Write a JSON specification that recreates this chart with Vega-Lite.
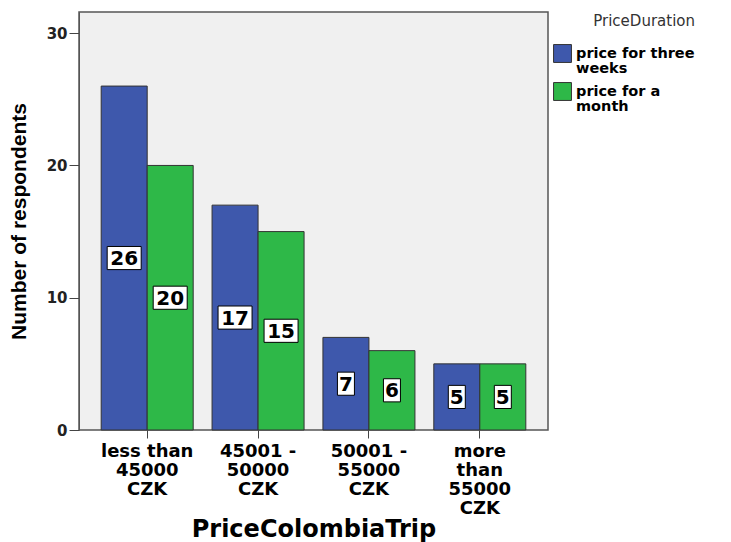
{
  "$schema": "https://vega.github.io/schema/vega-lite/v6.json",
  "width": 469,
  "height": 418,
  "autosize": "none",
  "padding": {"left": 79, "top": 12, "right": 183, "bottom": 112},
  "background": "white",
  "view": {"fill": "#F0F0F0", "stroke": "#555555", "strokeWidth": 1.5},
  "data": {
    "values": [
      {"trip": "less than 45000 CZK", "duration": "price for three weeks", "count": 26},
      {"trip": "less than 45000 CZK", "duration": "price for a month", "count": 20},
      {"trip": "45001 - 50000 CZK", "duration": "price for three weeks", "count": 17},
      {"trip": "45001 - 50000 CZK", "duration": "price for a month", "count": 15},
      {"trip": "50001 - 55000 CZK", "duration": "price for three weeks", "count": 7},
      {"trip": "50001 - 55000 CZK", "duration": "price for a month", "count": 6},
      {"trip": "more than 55000 CZK", "duration": "price for three weeks", "count": 5},
      {"trip": "more than 55000 CZK", "duration": "price for a month", "count": 5}
    ]
  },
  "encoding": {
    "x": {
      "field": "trip",
      "type": "nominal",
      "sort": null,
      "scale": {"paddingInner": 0.17, "paddingOuter": 0.2},
      "axis": {
        "title": "PriceColombiaTrip",
        "titleFont": "DejaVu Sans",
        "titleFontWeight": "bold",
        "titleFontSize": 24,
        "titleColor": "black",
        "titlePadding": 0,
        "labelAngle": 0,
        "labelFont": "DejaVu Sans",
        "labelFontWeight": "bold",
        "labelFontSize": 18,
        "labelColor": "black",
        "labelLineHeight": 19,
        "labelPadding": 4,
        "labelLimit": 200,
        "tickSize": 8,
        "tickColor": "#444444",
        "domain": false,
        "labelExpr": "datum.label == 'less than 45000 CZK' ? ['less than','45000','CZK'] : datum.label == '45001 - 50000 CZK' ? ['45001 -','50000','CZK'] : datum.label == '50001 - 55000 CZK' ? ['50001 -','55000','CZK'] : ['more','than','55000','CZK']"
      }
    },
    "xOffset": {"field": "duration", "type": "nominal", "sort": ["price for three weeks", "price for a month"]}
  },
  "resolve": {"scale": {"y": "independent"}},
  "layer": [
    {
      "mark": {"type": "bar", "stroke": "#333333", "strokeWidth": 1},
      "encoding": {
        "y": {
          "field": "count",
          "type": "quantitative",
          "scale": {"domain": [0, 31.6], "nice": false},
          "axis": {
            "title": "Number of respondents",
            "titleFont": "Liberation Sans",
            "titleFontWeight": "bold",
            "titleFontSize": 21,
            "titleColor": "black",
            "titlePadding": 17,
            "values": [0, 10, 20, 30],
            "grid": false,
            "labelFont": "DejaVu Sans",
            "labelFontWeight": "bold",
            "labelFontSize": 15,
            "labelColor": "#222222",
            "tickSize": 10,
            "tickColor": "#444444",
            "domainColor": "#555555"
          }
        },
        "color": {
          "field": "duration",
          "type": "nominal",
          "sort": ["price for three weeks", "price for a month"],
          "scale": {"domain": ["price for three weeks", "price for a month"], "range": ["#3E58AC", "#2EB848"]},
          "legend": {
            "title": "PriceDuration",
            "orient": "none",
            "legendX": 474,
            "legendY": 2,
            "titleFont": "DejaVu Sans",
            "titleFontWeight": "normal",
            "titleFontSize": 15,
            "titleColor": "#333333",
            "titlePadding": 15,
            "titleAnchor": "end",
            "labelFont": "DejaVu Sans",
            "labelFontWeight": "bold",
            "labelFontSize": 14.5,
            "labelColor": "black",
            "labelLimit": 200,
            "labelOffset": 4,
            "symbolType": "square",
            "symbolSize": 320,
            "symbolStrokeColor": "#333333",
            "symbolStrokeWidth": 1,
            "rowPadding": 5,
            "encode": {"labels": {"update": {"lineHeight": {"value": 15}}}},
            "labelExpr": "datum.label == 'price for three weeks' ? ['price for three','weeks'] : ['price for a','month']"
          }
        }
      }
    },
    {
      "transform": [{"filter": "datum.count >= 10"}],
      "mark": {"type": "point", "filled": true, "fill": "white", "stroke": "black", "strokeWidth": 1, "opacity": 1, "shape": "M-1,-0.68L1,-0.68L1,0.68L-1,0.68Z", "size": 1156},
      "encoding": {
        "y": {"field": "count", "type": "quantitative", "scale": {"domain": [0, 63.2], "nice": false}, "axis": null}
      }
    },
    {
      "transform": [{"filter": "datum.count < 10"}],
      "mark": {"type": "point", "filled": true, "fill": "white", "stroke": "black", "strokeWidth": 1, "opacity": 1, "shape": "M-0.5,-0.68L0.5,-0.68L0.5,0.68L-0.5,0.68Z", "size": 1156},
      "encoding": {
        "y": {"field": "count", "type": "quantitative", "scale": {"domain": [0, 63.2], "nice": false}, "axis": null}
      }
    },
    {
      "mark": {"type": "text", "font": "DejaVu Sans", "fontWeight": "bold", "fontSize": 20, "color": "black", "baseline": "middle", "dy": 1},
      "encoding": {
        "y": {"field": "count", "type": "quantitative", "scale": {"domain": [0, 63.2], "nice": false}, "axis": null},
        "text": {"field": "count", "type": "quantitative"}
      }
    }
  ]
}
